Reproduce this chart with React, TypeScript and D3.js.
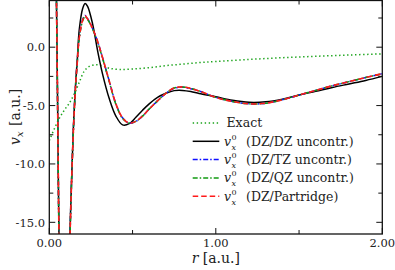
import * as d3 from 'd3';

const W = 395;
const H = 270;

// radial grid for the approximate potentials
const rApprox = [0.02, 0.035, 0.043, 0.05, 0.058, 0.07, 0.09, 0.11, 0.124, 0.144, 0.159, 0.168, 0.18, 0.2, 0.215, 0.23, 0.26, 0.29, 0.32, 0.36, 0.4, 0.44, 0.48, 0.52, 0.56, 0.6, 0.65, 0.7, 0.75, 0.8, 0.85, 0.9, 1.0, 1.1, 1.2, 1.3, 1.4, 1.5, 1.6, 1.7, 1.8, 1.9, 2.0];

const vDZ = [30, 12, 4, -5, -16, -26, -32, -26, -16, -7.1, -2.9, -1.1, 1.5, 3.3, 3.75, 3.5, 2.0, -0.3, -2.3, -4.4, -5.9, -6.65, -6.55, -6.0, -5.4, -4.85, -4.3, -3.95, -3.72, -3.7, -3.8, -3.97, -4.25, -4.55, -4.72, -4.68, -4.45, -4.1, -3.78, -3.45, -3.15, -2.85, -2.5];
const vTZ = [30, 12, 4, -5, -16, -26, -32, -26, -16.3, -7.3, -3.0, -1.2, 0.85, 2.35, 2.72, 2.45, 1.6, 0.5, -0.9, -2.9, -4.85, -6.05, -6.5, -6.35, -5.9, -5.3, -4.6, -3.95, -3.52, -3.42, -3.55, -3.75, -4.3, -4.65, -4.85, -4.8, -4.5, -4.1, -3.7, -3.3, -2.95, -2.6, -2.27];
const vQZ = [30, 12, 4, -5, -16, -26, -32, -26, -16.4, -7.4, -3.1, -1.3, 0.75, 2.25, 2.62, 2.38, 1.55, 0.45, -0.95, -2.95, -4.9, -6.1, -6.5, -6.35, -5.9, -5.3, -4.6, -3.95, -3.5, -3.4, -3.53, -3.75, -4.3, -4.65, -4.85, -4.8, -4.5, -4.1, -3.7, -3.3, -2.95, -2.6, -2.27];
const vPart = [30, 12, 4, -5, -16, -26, -32, -26, -16.4, -7.4, -3.1, -1.3, 0.8, 2.3, 2.68, 2.42, 1.6, 0.5, -0.9, -2.9, -4.85, -6.05, -6.5, -6.35, -5.9, -5.3, -4.6, -3.95, -3.5, -3.4, -3.53, -3.75, -4.3, -4.65, -4.85, -4.8, -4.5, -4.1, -3.7, -3.3, -2.95, -2.6, -2.27];

const rExact = [0.0, 0.03, 0.06, 0.09, 0.12, 0.15, 0.18, 0.21, 0.24, 0.28, 0.32, 0.36, 0.42, 0.5, 0.6, 0.7, 0.8, 0.9, 1.0, 1.2, 1.4, 1.6, 1.8, 2.0];
const vExact = [-8.0, -7.0, -6.1, -5.4, -4.8, -4.0, -3.0, -2.05, -1.65, -1.5, -1.6, -1.8, -1.9, -1.87, -1.75, -1.58, -1.45, -1.32, -1.22, -1.05, -0.9, -0.78, -0.67, -0.57];

const xMajor = [0, 1, 2];
const xMajorLabels = ['0.00', '1.00', '2.00'];
const xMinor = [0.5, 1.5];
const yMajor = [-15, -10, -5, 0];
const yMajorLabels = ['-15.0', '-10.0', '-5.0', '0.0'];
const yMinor = [-12.5, -7.5, -2.5, 2.5];

const legendBases = ['(DZ/DZ uncontr.)', '(DZ/TZ uncontr.)', '(DZ/QZ uncontr.)', '(DZ/Partridge)'];

const left = 49.3;
const right = 382.3;
const top = 0.5;
const bottom = 234;

const FONT = '"DejaVu Serif", serif';

export default function App() {
  const x = d3.scaleLinear().domain([0, 2]).range([left, right]);
  const y = d3.scaleLinear().domain([-16, 4]).range([bottom, top]);

  const line = (rs: number[], vs: number[]) =>
    d3.line<number>()
      .x((_, i) => x(rs[i]))
      .y((d) => y(d))
      .curve(d3.curveCatmullRom.alpha(0.5))(vs) as string;

  const series = [
    { r: rExact, v: vExact, color: '#1aa31a', dash: '1.4 2.6', width: 1.5 },
    { r: rApprox, v: vDZ, color: '#000000', dash: undefined, width: 1.5 },
    { r: rApprox, v: vTZ, color: '#1010ff', dash: '5 2 1.5 2', width: 1.5 },
    { r: rApprox, v: vQZ, color: '#109a10', dash: '5 2 1.5 2', width: 1.5 },
    { r: rApprox, v: vPart, color: '#ff1a1a', dash: '5.5 3', width: 1.6 },
  ];

  const legendX0 = 192.7;
  const legendX1 = 219.3;
  const legendY0 = 123;
  const legendDy = 18.3;

  const axisColor = '#111';
  const textColor = '#222';

  return (
    <svg width={W} height={H} style={{ position: 'absolute', left: 0, top: 0, background: '#fff' }}>
      <defs>
        <clipPath id="plot">
          <rect x={left} y={top} width={right - left} height={bottom - top} />
        </clipPath>
      </defs>

      <g clipPath="url(#plot)">
        {series.map((s, i) => (
          <path key={i} d={line(s.r, s.v)} fill="none" stroke={s.color}
            strokeWidth={s.width} strokeDasharray={s.dash} strokeLinejoin="round" />
        ))}
      </g>

      {/* frame */}
      <rect x={left} y={top} width={right - left} height={bottom - top} fill="none" stroke={axisColor} strokeWidth={1.3} />

      {/* ticks, inward on all four sides */}
      {xMajor.map((t) => (
        <g key={'xM' + t}>
          <line x1={x(t)} x2={x(t)} y1={bottom} y2={bottom - 6} stroke={axisColor} strokeWidth={1} />
          <line x1={x(t)} x2={x(t)} y1={top} y2={top + 6} stroke={axisColor} strokeWidth={1} />
        </g>
      ))}
      {xMinor.map((t) => (
        <g key={'xm' + t}>
          <line x1={x(t)} x2={x(t)} y1={bottom} y2={bottom - 4} stroke={axisColor} strokeWidth={1} />
          <line x1={x(t)} x2={x(t)} y1={top} y2={top + 4} stroke={axisColor} strokeWidth={1} />
        </g>
      ))}
      {yMajor.map((t) => (
        <g key={'yM' + t}>
          <line x1={left} x2={left + 6} y1={y(t)} y2={y(t)} stroke={axisColor} strokeWidth={1} />
          <line x1={right} x2={right - 6} y1={y(t)} y2={y(t)} stroke={axisColor} strokeWidth={1} />
        </g>
      ))}
      {yMinor.map((t) => (
        <g key={'ym' + t}>
          <line x1={left} x2={left + 4} y1={y(t)} y2={y(t)} stroke={axisColor} strokeWidth={1} />
          <line x1={right} x2={right - 4} y1={y(t)} y2={y(t)} stroke={axisColor} strokeWidth={1} />
        </g>
      ))}

      {/* tick labels */}
      {xMajor.map((t, i) => (
        <text key={'xl' + t} x={x(t)} y={247} textAnchor="middle" fontFamily={FONT} fontSize={11.5} fill={textColor}>
          {xMajorLabels[i]}
        </text>
      ))}
      {yMajor.map((t, i) => (
        <text key={'yl' + t} x={45} y={y(t) + 4.2} textAnchor="end" fontFamily={FONT} fontSize={11.5} fill={textColor}>
          {yMajorLabels[i]}
        </text>
      ))}

      {/* axis labels */}
      <text x={x(1)} y={263} textAnchor="middle" fontFamily={FONT} fontSize={14} fill={textColor}>
        <tspan fontStyle="italic">r</tspan> [a.u.]
      </text>
      <g transform={`translate(20, 115) rotate(-90)`}>
        <text x={-30} y={0} fontFamily={FONT} fontSize={14} fill={textColor} fontStyle="italic">v</text>
        <text x={-22} y={3} fontFamily={FONT} fontSize={10} fill={textColor} fontStyle="italic">x</text>
        <text x={-11} y={0} fontFamily={FONT} fontSize={14} fill={textColor}>[a.u.]</text>
      </g>

      {/* legend */}
      {series.map((s, i) => {
        const ly = legendY0 + i * legendDy;
        return (
          <g key={'lg' + i}>
            <line x1={legendX0} x2={legendX1} y1={ly} y2={ly} stroke={s.color}
              strokeWidth={s.width} strokeDasharray={s.dash} />
            {i === 0 ? (
              <text x={226.5} y={ly + 4.4} fontFamily={FONT} fontSize={12.5} fill={textColor}>Exact</text>
            ) : (
              <g>
                <text x={224} y={ly + 4.4} fontFamily={FONT} fontSize={12.5} fill={textColor} fontStyle="italic">v</text>
                <text x={231.5} y={ly - 1.5} fontFamily={FONT} fontSize={8} fill={textColor}>0</text>
                <text x={231.5} y={ly + 8.5} fontFamily={FONT} fontSize={8} fill={textColor} fontStyle="italic">x</text>
                <text x={246} y={ly + 4.4} fontFamily={FONT} fontSize={12.5} fill={textColor}>{legendBases[i - 1]}</text>
              </g>
            )}
          </g>
        );
      })}
    </svg>
  );
}
